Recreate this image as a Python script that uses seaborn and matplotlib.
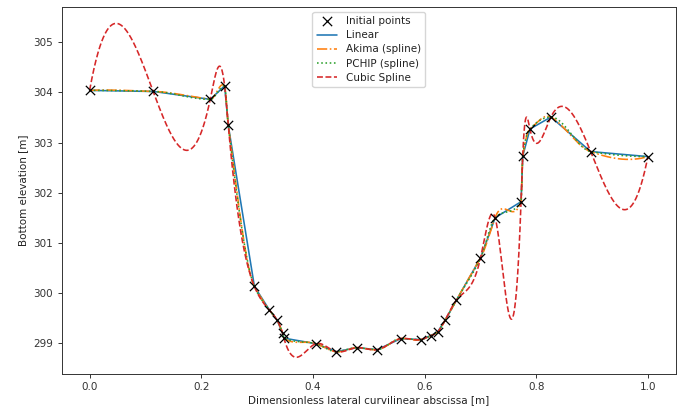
import numpy as np
import pandas as pd
import matplotlib
matplotlib.use("Agg")
import matplotlib.pyplot as plt
import seaborn as sns

# ---- data: initial surveyed points ----
x_points = [0.0, 0.1138, 0.2160, 0.2418, 0.2484, 0.2952, 0.3220, 0.3358,
            0.3455, 0.3480, 0.4055, 0.4413, 0.4782, 0.5152, 0.5569, 0.5927,
            0.6113, 0.6238, 0.6369, 0.6571, 0.7000, 0.7263, 0.7728, 0.7758,
            0.7887, 0.8263, 0.8975, 1.0]
y_points = [304.04, 304.02, 303.86, 304.13, 303.34, 300.13, 299.66, 299.46,
            299.20, 299.10, 298.99, 298.83, 298.91, 298.87, 299.09, 299.07,
            299.15, 299.23, 299.46, 299.86, 300.69, 301.50, 301.82, 302.73,
            303.27, 303.51, 302.82, 302.72]

series_labels = ["Initial points", "Linear", "Akima (spline)", "PCHIP (spline)", "Cubic Spline"]
x_label = "Dimensionless lateral curvilinear abscissa [m]"
y_label = "Bottom elevation [m]"


# ---- interpolation helpers (numpy re-implementations of scipy's) ----
def hermite(x, y, d, xn):
    x = np.asarray(x); y = np.asarray(y)
    idx = np.clip(np.searchsorted(x, xn, side="right") - 1, 0, len(x) - 2)
    h = x[idx + 1] - x[idx]
    t = (xn - x[idx]) / h
    h00 = 2 * t**3 - 3 * t**2 + 1
    h10 = t**3 - 2 * t**2 + t
    h01 = -2 * t**3 + 3 * t**2
    h11 = t**3 - t**2
    return h00 * y[idx] + h10 * h * d[idx] + h01 * y[idx + 1] + h11 * h * d[idx + 1]


def cubic_notaknot_slopes(x, y):
    x = np.asarray(x); y = np.asarray(y)
    n = len(x)
    dx = np.diff(x)
    s = np.diff(y) / dx
    A = np.zeros((n, n)); b = np.zeros(n)
    for i in range(1, n - 1):
        A[i, i - 1] = dx[i]
        A[i, i] = 2 * (dx[i - 1] + dx[i])
        A[i, i + 1] = dx[i - 1]
        b[i] = 3 * (dx[i] * s[i - 1] + dx[i - 1] * s[i])
    d0 = x[2] - x[0]
    A[0, 0] = dx[1]; A[0, 1] = d0
    b[0] = ((dx[0] + 2 * d0) * dx[1] * s[0] + dx[0] ** 2 * s[1]) / d0
    d1 = x[-1] - x[-3]
    A[-1, -1] = dx[-2]; A[-1, -2] = d1
    b[-1] = (dx[-1] ** 2 * s[-2] + (2 * d1 + dx[-1]) * dx[-2] * s[-1]) / d1
    return np.linalg.solve(A, b)


def pchip_slopes(x, y):
    x = np.asarray(x); y = np.asarray(y)
    hk = np.diff(x)
    mk = np.diff(y) / hk
    smk = np.sign(mk)
    cond = (smk[1:] != smk[:-1]) | (mk[1:] == 0) | (mk[:-1] == 0)
    w1 = 2 * hk[1:] + hk[:-1]
    w2 = hk[1:] + 2 * hk[:-1]
    with np.errstate(divide="ignore", invalid="ignore"):
        whmean = (w1 / mk[:-1] + w2 / mk[1:]) / (w1 + w2)
    dk = np.zeros(len(x))
    dk[1:-1] = np.where(cond, 0.0, 1.0 / np.where(cond, 1.0, whmean))

    def edge(h0, h1, m0, m1):
        d = ((2 * h0 + h1) * m0 - h0 * m1) / (h0 + h1)
        if np.sign(d) != np.sign(m0):
            return 0.0
        if (np.sign(m0) != np.sign(m1)) and abs(d) > 3 * abs(m0):
            return 3 * m0
        return d

    dk[0] = edge(hk[0], hk[1], mk[0], mk[1])
    dk[-1] = edge(hk[-1], hk[-2], mk[-1], mk[-2])
    return dk


def akima_slopes(x, y):
    x = np.asarray(x); y = np.asarray(y)
    m = np.diff(y) / np.diff(x)
    mm = 2 * m[0] - m[1]; mmm = 2 * mm - m[0]
    mp = 2 * m[-1] - m[-2]; mpp = 2 * mp - m[-1]
    m1 = np.concatenate([[mmm, mm], m, [mp, mpp]])
    dm = np.abs(np.diff(m1))
    f1 = dm[2:]; f2 = dm[:-2]
    f12 = f1 + f2
    t = 0.5 * (m1[3:] + m1[:-3])
    ind = f12 > 1e-9 * np.max(f12)
    t[ind] = (f1[ind] * m1[1:-2][ind] + f2[ind] * m1[2:-1][ind]) / f12[ind]
    return t


xs = np.linspace(min(x_points), max(x_points), 2000)
curves = {
    "Linear": np.interp(xs, x_points, y_points),
    "Akima (spline)": hermite(x_points, y_points, akima_slopes(x_points, y_points), xs),
    "PCHIP (spline)": hermite(x_points, y_points, pchip_slopes(x_points, y_points), xs),
    "Cubic Spline": hermite(x_points, y_points, cubic_notaknot_slopes(x_points, y_points), xs),
}

# ---- style ----
sns.set_style("ticks")
plt.rcParams.update({
    "font.family": ["DejaVu Sans"],
    "font.size": 7.5,
    "axes.labelsize": 7.5,
    "xtick.labelsize": 7.5,
    "ytick.labelsize": 7.5,
    "legend.fontsize": 7.5,
    "axes.edgecolor": "#333333",
    "axes.linewidth": 0.7,
    "xtick.major.width": 0.7,
    "ytick.major.width": 0.7,
    "xtick.major.size": 2.6,
    "ytick.major.size": 2.6,
    "text.color": "#222222",
    "axes.labelcolor": "#222222",
    "xtick.color": "#333333",
    "ytick.color": "#333333",
})

fig, ax = plt.subplots(figsize=(6.91, 4.09), dpi=100)
fig.subplots_adjust(left=0.0893, right=0.978, top=0.9836, bottom=0.0856)

pal = sns.color_palette("tab10")
styles = {
    "Linear": dict(color=pal[0], linestyle="-"),
    "Akima (spline)": dict(color=pal[1], linestyle="-."),
    "PCHIP (spline)": dict(color=pal[2], linestyle=":"),
    "Cubic Spline": dict(color=pal[3], linestyle="--"),
}

pts = pd.DataFrame({"x": x_points, "y": y_points})
sns.scatterplot(data=pts, x="x", y="y", ax=ax, marker="x", color="black",
                s=45, linewidth=0.9, label=series_labels[0], zorder=3)

for name in series_labels[1:]:
    sns.lineplot(x=xs, y=curves[name], ax=ax, linewidth=1.15, label=name,
                 sort=False, estimator=None, **styles[name])

ax.margins(x=0.05, y=0.05)
ax.set_xlabel(x_label, labelpad=2)
ax.set_ylabel(y_label, labelpad=4)
ax.set_xticks([0.0, 0.2, 0.4, 0.6, 0.8, 1.0])
ax.set_yticks([299, 300, 301, 302, 303, 304, 305])
ax.legend(loc="upper center", frameon=True, fancybox=True, framealpha=0.8,
          edgecolor="#cccccc", borderpad=0.4, labelspacing=0.4,
          handlelength=2.0)

fig.savefig("out.png", dpi=100)
